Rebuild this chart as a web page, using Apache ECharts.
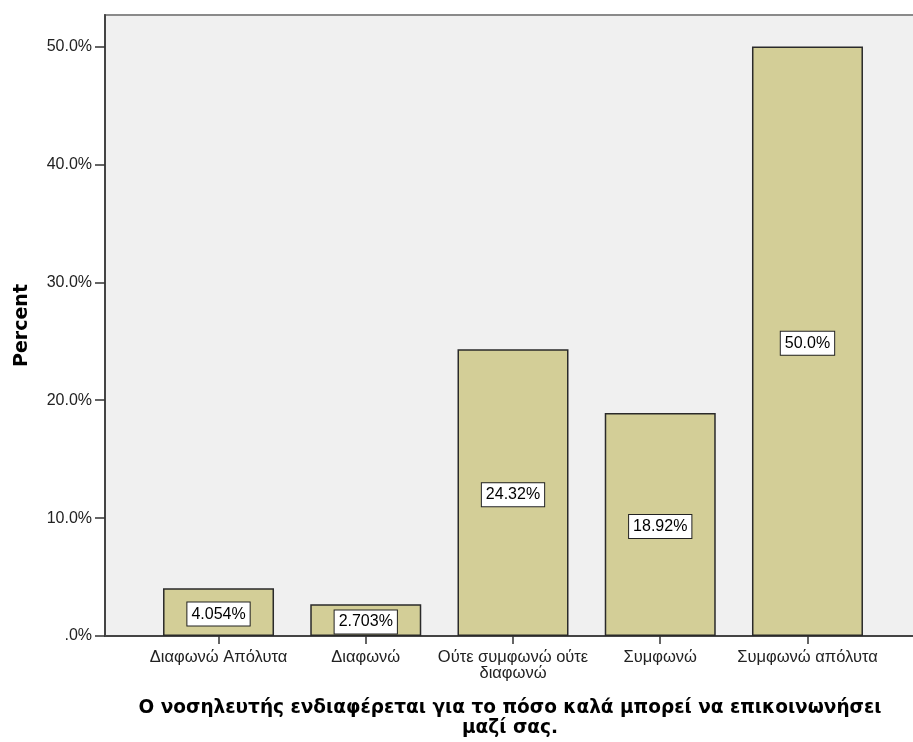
<!DOCTYPE html>
<html>
<head>
<meta charset="utf-8">
<script src="https://cdn.jsdelivr.net/npm/echarts@6/dist/echarts.min.js"></script>
<style>
  html, body { margin: 0; padding: 0; background: #fff; }
  #chart { width: 913px; height: 742px; }
</style>
</head>
<body>
<div id="chart"></div>
<script>
// ==============================================================
// Bar chart - percent per answer
// ==============================================================
var categories = ['Διαφωνώ Απόλυτα', 'Διαφωνώ', 'Ούτε συμφωνώ ούτε\nδιαφωνώ', 'Συμφωνώ', 'Συμφωνώ απόλυτα'];
var percents = [4.054, 2.703, 24.32, 18.92, 50.0];
var valueLabels = ['4.054%', '2.703%', '24.32%', '18.92%', '50.0%'];
var yTicks = [0, 10, 20, 30, 40, 50];

var catIndex = categories.map(function (c, i) { return i; });
var barData = categories.map(function (c, i) { return [i, percents[i]]; });

var barChart = echarts.init(document.getElementById('chart'));

option = {
    animation: false,
    grid: {
        left: 105,
        width: 816,
        top: 15,
        bottom: 106,
        outerBoundsMode: 'none',
        containLabel: false,
        show: true,
        backgroundColor: '#f0f0f0',
        borderColor: '#8a8a8a',
        borderWidth: 2
    },
    xAxis: {
        type: 'value',
        min: -0.771,
        max: 4.771,
        splitLine: { show: false },
        axisLine: { show: true, onZero: false, lineStyle: { color: '#444', width: 2 } },
        axisTick: { show: true, length: 8, customValues: catIndex, lineStyle: { color: '#333', width: 1.5 } },
        axisLabel: {
            customValues: catIndex,
            margin: 13,
            color: '#222',
            fontFamily: 'Liberation Sans',
            fontSize: 16.5,
            lineHeight: 16,
            align: 'center',
            formatter: function (v) { return categories[v]; }
        },
        name: 'Ο νοσηλευτής ενδιαφέρεται για το πόσο καλά μπορεί να επικοινωνήσει\nμαζί σας.',
        nameLocation: 'middle',
        nameGap: 62,
        nameTextStyle: {
            color: '#000',
            fontFamily: 'DejaVu Sans',
            fontWeight: 'bold',
            fontSize: 18.5,
            lineHeight: 20,
            align: 'center',
            padding: [0, 6, 0, 0]
        }
    },
    yAxis: {
        type: 'value',
        min: 0,
        max: 52.67,
        splitLine: { show: false },
        axisLine: { show: true, onZero: false, lineStyle: { color: '#444', width: 2 } },
        axisTick: { show: true, length: 10, customValues: yTicks, lineStyle: { color: '#333', width: 1.5 } },
        axisLabel: {
            customValues: yTicks,
            margin: 13,
            color: '#222',
            fontFamily: 'Liberation Sans',
            fontSize: 16,
            formatter: function (v) { return v === 0 ? '.0%' : v.toFixed(1) + '%'; }
        },
        name: 'Percent',
        nameLocation: 'middle',
        nameRotate: 90,
        nameGap: 73,
        nameTextStyle: {
            color: '#000',
            fontFamily: 'DejaVu Sans',
            fontWeight: 'bold',
            fontSize: 19
        }
    },
    series: [
        {
            name: 'Percent',
            type: 'bar',
            barWidth: 111,
            data: barData,
            itemStyle: {
                color: '#d3ce97',
                borderColor: '#2a2a2a',
                borderWidth: 1.5
            },
            label: {
                show: true,
                position: 'inside',
                offset: [0, 2],
                color: '#000',
                fontFamily: 'Liberation Sans',
                fontSize: 16,
                backgroundColor: '#fff',
                borderColor: '#222',
                borderWidth: 1,
                padding: [4, 4, 3, 4],
                formatter: function (p) { return valueLabels[p.dataIndex]; }
            }
        }
    ]
};

barChart.setOption(option, true);
</script>
</body>
</html>
